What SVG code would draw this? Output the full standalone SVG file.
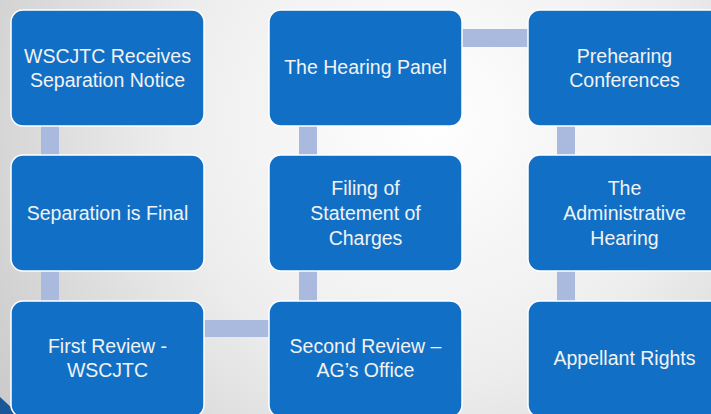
<svg xmlns="http://www.w3.org/2000/svg" width="711" height="414" viewBox="0 0 711 414">
<defs>
<radialGradient id="bg" cx="430" cy="120" r="560" gradientUnits="userSpaceOnUse">
<stop offset="0" stop-color="#ffffff"/>
<stop offset="0.45" stop-color="#eeeeee"/>
<stop offset="1" stop-color="#c4c4c4"/>
</radialGradient>
<style>
.node rect{fill:#1170C6;stroke:#ffffff;stroke-width:1.5}
.node text{fill:#F2F2F2;font-family:"Liberation Sans",Arial,sans-serif;font-size:19.5px;text-anchor:middle}
.conn rect{fill:#AABADF}
</style>
</defs>
<rect width="711" height="414" fill="url(#bg)"/>
<polygon points="0,397 13,409 14,414 0,414" fill="#1A5796"/>
<g id="connectors" class="conn">
<rect x="41" y="120" width="18" height="40"/>
<rect x="41" y="265" width="18" height="40"/>
<rect x="299" y="120" width="18" height="40"/>
<rect x="299" y="265" width="18" height="40"/>
<rect x="557" y="120" width="18" height="40"/>
<rect x="557" y="265" width="18" height="40"/>
<rect x="198" y="320" width="76" height="17"/>
<rect x="456" y="29" width="76" height="18"/>
</g>
<g id="n1" class="node"><rect x="11" y="10" width="193" height="116" rx="12"/><text x="107.5" y="63">WSCJTC Receives</text><text x="107.5" y="87">Separation Notice</text></g>
<g id="n2" class="node"><rect x="11" y="155" width="193" height="116" rx="12"/><text x="107.5" y="220">Separation is Final</text></g>
<g id="n3" class="node"><rect x="11" y="301" width="193" height="116" rx="12"/><text x="107.5" y="353">First Review -</text><text x="107.5" y="377">WSCJTC</text></g>
<g id="n4" class="node"><rect x="269" y="301" width="193" height="116" rx="12"/><text x="365.5" y="353">Second Review –</text><text x="365.5" y="377">AG’s Office</text></g>
<g id="n5" class="node"><rect x="269" y="155" width="193" height="116" rx="12"/><text x="365.5" y="195">Filing of</text><text x="365.5" y="220">Statement of</text><text x="365.5" y="245">Charges</text></g>
<g id="n6" class="node"><rect x="269" y="10" width="193" height="116" rx="12"/><text x="365.5" y="74">The Hearing Panel</text></g>
<g id="n7" class="node"><rect x="528" y="10" width="194" height="116" rx="12"/><text x="624.5" y="63">Prehearing</text><text x="624.5" y="87">Conferences</text></g>
<g id="n8" class="node"><rect x="528" y="155" width="194" height="116" rx="12"/><text x="624.5" y="195">The</text><text x="624.5" y="220">Administrative</text><text x="624.5" y="245">Hearing</text></g>
<g id="n9" class="node"><rect x="528" y="301" width="194" height="116" rx="12"/><text x="624.5" y="365">Appellant Rights</text></g>
</svg>
